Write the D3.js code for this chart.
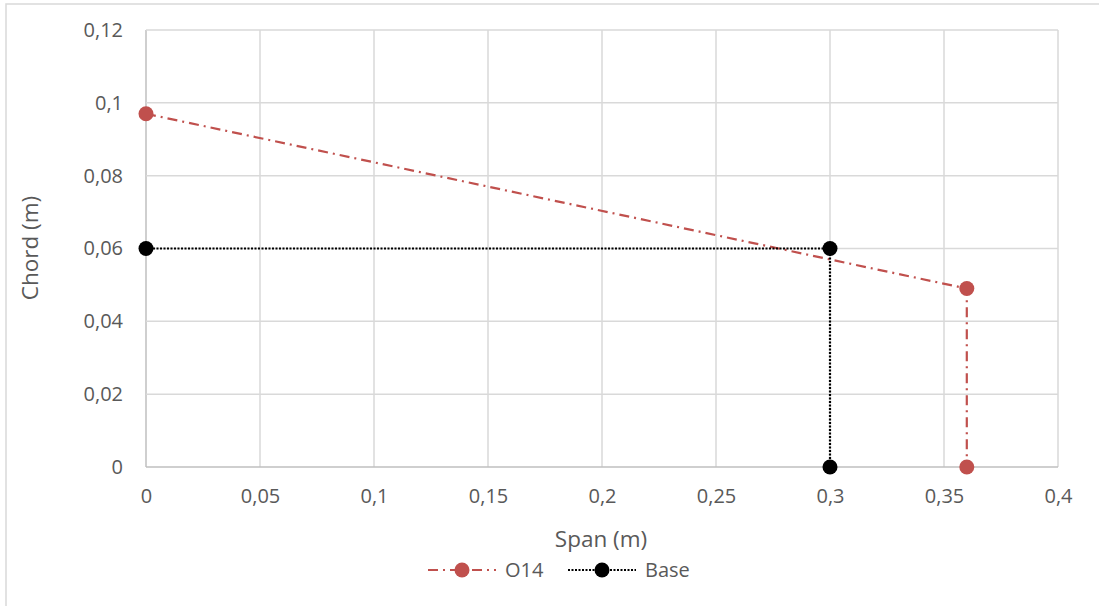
<!DOCTYPE html>
<html>
<head>
<meta charset="utf-8">
<script src="https://cdn.jsdelivr.net/npm/d3@7"></script>
<style>
  body { margin: 0; background: #fff; }
  svg text { font-family: "Open Sans", "Liberation Sans", sans-serif; fill: #595959; }
</style>
</head>
<body>
<svg id="chart" width="1099" height="606"></svg>
<script>
// series data
var o14X = [0, 0.36, 0.36];
var o14Y = [0.097, 0.049, 0];
var baseX = [0, 0.3, 0.3];
var baseY = [0.06, 0.06, 0];
var xTicks = [0, 0.05, 0.1, 0.15, 0.2, 0.25, 0.3, 0.35, 0.4];
var yTicks = [0, 0.02, 0.04, 0.06, 0.08, 0.1, 0.12];
var seriesNames = ["O14", "Base"];

var svg = d3.select("#chart");
var fmt = function (d) { return String(d).replace(".", ","); };

// outer border of the chart area
svg.append("rect").attr("x", 6).attr("y", 4).attr("width", 1200).attr("height", 700)
    .attr("fill", "none").attr("stroke", "#d9d9d9").attr("stroke-width", 1.5);

var x = d3.scaleLinear().domain([0, 0.4]).range([146, 1058]);
var y = d3.scaleLinear().domain([0, 0.12]).range([467, 30]);

// grid
var grid = svg.append("g");
grid.selectAll("line.v").data(xTicks).enter().append("line")
    .attr("x1", d => x(d)).attr("x2", d => x(d)).attr("y1", y(0.12)).attr("y2", y(0))
    .attr("stroke", d => d === 0 ? "#bfbfbf" : "#d9d9d9").attr("stroke-width", 1.5);
grid.selectAll("line.h").data(yTicks).enter().append("line")
    .attr("x1", x(0)).attr("x2", x(0.4)).attr("y1", d => y(d)).attr("y2", d => y(d))
    .attr("stroke", d => d === 0 ? "#bfbfbf" : "#d9d9d9").attr("stroke-width", 1.5);

// tick labels via axes
var xAxis = svg.append("g").attr("transform", "translate(0," + y(0) + ")")
    .call(d3.axisBottom(x).tickValues(xTicks).tickFormat(fmt).tickSize(0).tickPadding(22));
var yAxis = svg.append("g").attr("transform", "translate(" + x(0) + ",0)")
    .call(d3.axisLeft(y).tickValues(yTicks).tickFormat(fmt).tickSize(0).tickPadding(23));
[xAxis, yAxis].forEach(function (a) {
    a.select(".domain").remove();
    a.selectAll("text").attr("font-size", 20).attr("font-family", null).style("fill", "#595959");
});

// axis titles
svg.append("text").attr("x", 601).attr("y", 547).attr("text-anchor", "middle")
    .attr("font-size", 22.5).text("Span (m)");
svg.append("text").attr("transform", "translate(38,248) rotate(-90)").attr("text-anchor", "middle")
    .attr("font-size", 22.5).text("Chord (m)");

var line = d3.line().x(d => x(d[0])).y(d => y(d[1]));
var o14 = d3.zip(o14X, o14Y);
var base = d3.zip(baseX, baseY);

var styles = [
    { color: "#c0504d", dash: "10,5,2,5", data: o14 },
    { color: "#000000", dash: "2,1.5", data: base }
];

styles.forEach(function (s) {
    svg.append("path").datum(s.data).attr("d", line).attr("fill", "none")
        .attr("stroke", s.color).attr("stroke-width", 2.2).attr("stroke-dasharray", s.dash);
});
styles.forEach(function (s) {
    svg.selectAll(null).data(s.data).enter().append("circle")
        .attr("cx", d => x(d[0])).attr("cy", d => y(d[1])).attr("r", 7.5).attr("fill", s.color);
});

// legend
var legendX = [428, 568];
styles.forEach(function (s, i) {
    var g = svg.append("g").attr("transform", "translate(" + legendX[i] + ",570)");
    g.append("line").attr("x1", 0).attr("x2", 68).attr("y1", 0).attr("y2", 0)
        .attr("stroke", s.color).attr("stroke-width", 2.2).attr("stroke-dasharray", s.dash);
    g.append("circle").attr("cx", 34).attr("cy", 0).attr("r", 7.5).attr("fill", s.color);
    g.append("text").attr("x", 77).attr("y", 0).attr("dy", "0.35em").attr("font-size", 20)
        .text(seriesNames[i]);
});
</script>
</body>
</html>
